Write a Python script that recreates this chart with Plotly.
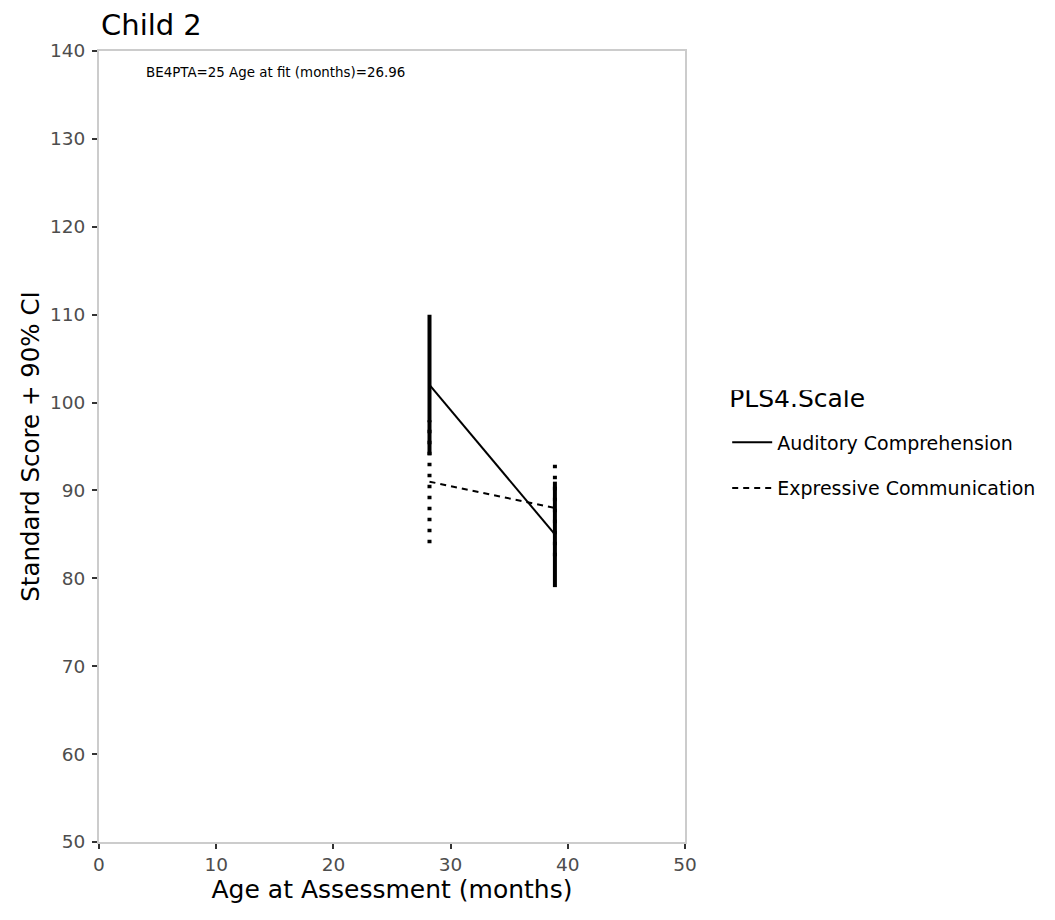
import plotly.graph_objects as go

# ---- data ----
series_names = ["Auditory Comprehension", "Expressive Communication"]
ages = [28.2, 38.9]
auditory_score = [102, 85]
auditory_lo = [94, 79]
auditory_hi = [110, 91]
expressive_score = [91, 88]
expressive_lo = [84, 82.5]
expressive_hi = [98, 93.5]
x_ticks = [0, 10, 20, 30, 40, 50]
y_ticks = [50, 60, 70, 80, 90, 100, 110, 120, 130, 140]
annotation_text = "BE4PTA=25 Age at fit (months)=26.96"
legend_title = "PLS4.Scale"

FONT = "DejaVu Sans"

def bar_coords(xs, lo, hi):
    bx, by = [], []
    for x, l, h in zip(xs, lo, hi):
        bx += [x, x, None]
        by += [l, h, None]
    return bx, by

fig = go.Figure()

styles = [
    dict(name=series_names[0], y=auditory_score, lo=auditory_lo, hi=auditory_hi,
         dash="solid", bardash="solid", group="a"),
    dict(name=series_names[1], y=expressive_score, lo=expressive_lo, hi=expressive_hi,
         dash="6px,5px", bardash="3.5px,7.5px", group="b"),
]

for s in styles:
    bx, by = bar_coords(ages, s["lo"], s["hi"])
    fig.add_trace(go.Scatter(
        x=bx, y=by, mode="lines", showlegend=False, legendgroup=s["group"],
        line=dict(color="black", width=4, dash=s["bardash"]), hoverinfo="skip"))

for s in styles:
    fig.add_trace(go.Scatter(
        x=ages, y=s["y"], mode="lines", name=s["name"], legendgroup=s["group"],
        line=dict(color="black", width=2, dash=s["dash"])))

fig.add_annotation(x=15.1, y=137.6, text=annotation_text, showarrow=False,
                   font=dict(family=FONT, size=13.4, color="black"),
                   xanchor="center", yanchor="middle")

axis_common = dict(
    showline=True, linecolor="#cccccc", linewidth=2, mirror=True,
    showgrid=False, zeroline=False,
    ticks="outside", ticklen=5, tickwidth=1.5, tickcolor="#333333",
    tickfont=dict(family=FONT, size=18.5, color="#4d4d4d"),
)

fig.update_layout(
    width=1055, height=920,
    margin=dict(l=99, r=370, t=51, b=78, autoexpand=False),
    plot_bgcolor="white", paper_bgcolor="white",
    title=dict(text="Child 2", x=101 / 1055, xref="container", xanchor="left",
               y=1 - 25 / 920, yref="container", yanchor="middle",
               font=dict(family=FONT, size=29, color="black")),
    xaxis=dict(range=[0, 50], tickvals=x_ticks, **axis_common,
               title=dict(text="Age at Assessment (months)", standoff=0,
                          font=dict(family=FONT, size=25, color="black"))),
    yaxis=dict(range=[50, 140], tickvals=y_ticks, ticklabelstandoff=3, **axis_common,
               title=dict(text="Standard Score + 90% CI", standoff=3,
                          font=dict(family=FONT, size=24.5, color="black"))),
    legend=dict(x=1.072, y=0.571, xanchor="left", yanchor="top",
                title=dict(text="<span style='font-size:25px'>" + legend_title + "</span><br>&nbsp;",
                           font=dict(family=FONT, size=12.7, color="black")),
                font=dict(family=FONT, size=19, color="black"),
                traceorder="grouped", tracegroupgap=18, itemwidth=40,
                bgcolor="rgba(0,0,0,0)"),
    showlegend=True,
)

fig.write_html("out.html")
